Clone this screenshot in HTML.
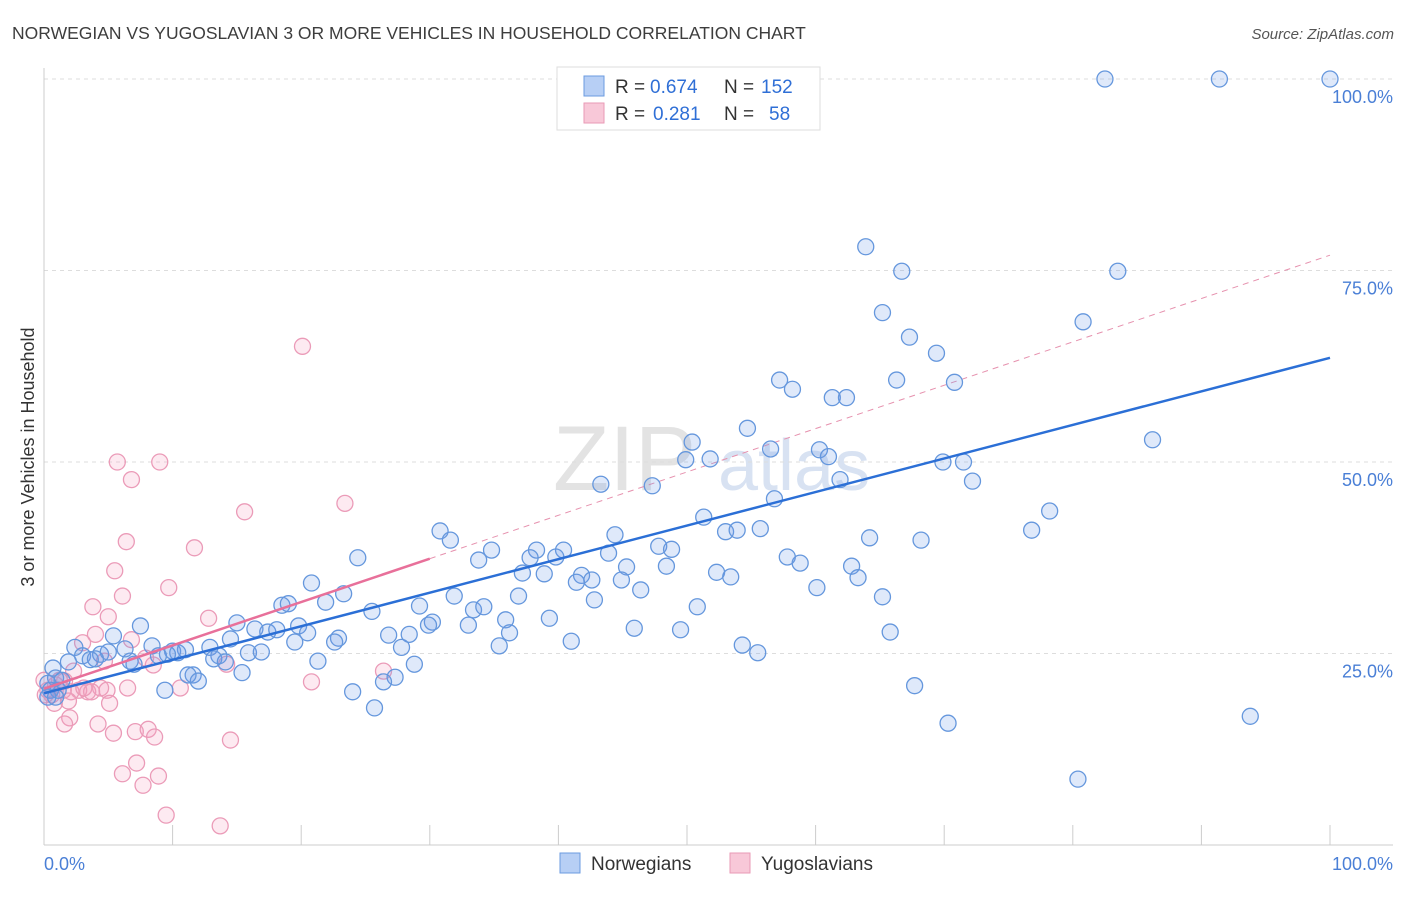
<!DOCTYPE html>
<html><head><meta charset="utf-8"><style>
body{margin:0;background:#fff;font-family:"Liberation Sans",sans-serif}
svg text{font-family:"Liberation Sans",sans-serif}
</style></head><body>
<svg id="chart" width="1406" height="892">
<text x="12" y="39" font-size="17.5" fill="#3d3d3d">NORWEGIAN VS YUGOSLAVIAN 3 OR MORE VEHICLES IN HOUSEHOLD CORRELATION CHART</text>
<text x="1394" y="39" font-size="15" fill="#555" text-anchor="end" font-style="italic">Source: ZipAtlas.com</text>
<text x="34" y="457" font-size="18" fill="#333" text-anchor="middle" transform="rotate(-90 34 457)">3 or more Vehicles in Household</text>
<g><text x="553" y="490" font-size="92" fill="#ddd" font-family="Liberation Serif" opacity="0.8">ZIP</text><text x="718" y="490" font-size="72" fill="#cfdcf0" opacity="0.8">atlas</text></g>
<g id="grid"></g><g id="axes"></g><g id="lines"></g><g id="pts"></g>
<g>
<rect x="557" y="67" width="263" height="63" fill="#fff" stroke="#ddd"/>
<rect x="584" y="76" width="20" height="20" fill="#b7cff5" stroke="#6b9be0"/>
<rect x="584" y="103" width="20" height="20" fill="#f8c8d8" stroke="#e99ab6"/>
<text x="615" y="93" font-size="19" fill="#333">R =</text>
<text x="650" y="93" font-size="19" fill="#2f6fd6">0.674</text>
<text x="724" y="93" font-size="19" fill="#333">N =</text>
<text x="761" y="93" font-size="19" fill="#2f6fd6">152</text>
<text x="615" y="120" font-size="19" fill="#333">R =</text>
<text x="653" y="120" font-size="19" fill="#2f6fd6">0.281</text>
<text x="724" y="120" font-size="19" fill="#333">N =</text>
<text x="769" y="120" font-size="19" fill="#2f6fd6">58</text>
</g>
<g>
<rect x="560" y="853" width="20" height="20" fill="#b7cff5" stroke="#6b9be0"/>
<text x="591" y="870" font-size="19" fill="#333">Norwegians</text>
<rect x="730" y="853" width="20" height="20" fill="#f8c8d8" stroke="#e99ab6"/>
<text x="761" y="870" font-size="19" fill="#333">Yugoslavians</text>
</g>
</svg>
<script>
const yTicks=[25,50,75,100];
const yTickLabels=["25.0%","50.0%","75.0%","100.0%"];
const xTickLabels=["0.0%","100.0%"];
const bluePx=[[1105,79],[1220,79],[1330,79],[866,247],[902,271],[1118,271],[882,313],[1083,322],[910,337],[936,353],[780,380],[897,380],[955,382],[793,389],[832,398],[847,398],[748,428],[1153,440],[692,442],[770,449],[819,450],[828,457],[686,460],[710,459],[943,462],[963,462],[840,480],[972,481],[601,484],[652,486],[774,499],[1050,511],[704,517],[1032,530],[440,531],[726,532],[737,530],[760,529],[870,538],[921,540],[450,540],[615,535],[358,558],[492,550],[537,550],[563,550],[659,546],[672,549],[608,553],[479,560],[556,557],[627,567],[851,566],[530,558],[800,563],[667,566],[787,557],[717,572],[731,577],[523,573],[544,574],[582,575],[592,580],[312,583],[576,582],[622,580],[858,578],[641,590],[817,588],[344,594],[518,596],[454,596],[882,597],[595,600],[282,605],[288,604],[325,602],[372,611],[420,606],[474,610],[484,607],[697,607],[550,618],[506,620],[432,622],[428,625],[469,625],[140,626],[237,623],[255,629],[268,632],[277,630],[298,626],[510,633],[409,634],[389,635],[307,633],[634,628],[680,630],[890,632],[114,636],[230,639],[339,638],[571,641],[334,642],[295,642],[402,647],[75,647],[152,646],[125,649],[210,647],[185,650],[173,651],[178,653],[167,654],[742,645],[499,646],[249,653],[261,652],[100,654],[108,652],[82,656],[96,659],[158,656],[130,661],[219,656],[214,659],[68,662],[90,660],[53,668],[318,661],[225,662],[134,664],[758,653],[415,664],[193,675],[395,677],[188,675],[198,681],[242,673],[383,682],[352,692],[165,690],[915,686],[375,708],[948,723],[1250,716],[1078,779],[55,678],[48,683],[50,690],[58,690],[62,680],[48,697],[56,697]];
const pinkPx=[[303,346],[117,462],[160,462],[131,480],[244,512],[345,503],[126,542],[195,548],[115,571],[169,588],[122,596],[93,607],[108,617],[209,618],[96,634],[131,640],[82,643],[145,658],[104,661],[153,665],[227,664],[73,671],[383,671],[65,681],[311,682],[180,688],[128,688],[100,688],[88,692],[79,690],[71,692],[48,690],[52,695],[56,685],[60,680],[107,690],[68,701],[110,703],[54,703],[45,695],[44,680],[70,718],[64,724],[98,724],[114,733],[135,732],[148,729],[155,737],[231,740],[137,763],[122,774],[158,776],[143,785],[166,815],[220,826],[91,692],[84,688],[63,690]];
const blueX=bluePx.map(p=>+((p[0]-44)/12.86).toFixed(1));
const blueY=bluePx.map(p=>+((845-p[1])/7.66).toFixed(1));
const pinkX=pinkPx.map(p=>+((p[0]-44)/12.86).toFixed(1));
const pinkY=pinkPx.map(p=>+((845-p[1])/7.66).toFixed(1));
const blueTrend=[19.8,63.6];
const pinkTrend=[20.4,77.0];
const pinkSolidEnd=30;

const sx=v=>44+v*12.86, sy=v=>845-v*7.66;
const NS="http://www.w3.org/2000/svg";
function mk(t,a,p){const e=document.createElementNS(NS,t);for(const k in a)e.setAttribute(k,a[k]);p.appendChild(e);return e;}
const grid=document.getElementById('grid'),axes=document.getElementById('axes'),lines=document.getElementById('lines'),pts=document.getElementById('pts');
yTicks.forEach((t,i)=>{
 const l=mk('line',{x1:44,x2:1393,y1:sy(t),y2:sy(t),stroke:'#ddd','stroke-dasharray':'4,4'},grid);
 
 
 const tx=mk('text',{x:1393,y:sy(t)+24,'font-size':18,fill:'#4a7fd6','text-anchor':'end'},axes);
 tx.textContent=yTickLabels[i];
 
 
});
const ax=mk('line',{x1:44,x2:1393,y1:845,y2:845,stroke:'#ccc'},axes);


const ay=mk('line',{x1:44,x2:44,y1:68,y2:845,stroke:'#ccc'},axes);


for(let i=0;i<=10;i++){const t=mk('line',{x1:sx(i*10),x2:sx(i*10),y1:825,y2:845,stroke:'#ccc'},axes);
 
 }
[[0,'start',44],[1,'end',1393]].forEach(([i,a,x])=>{const t=mk('text',{x:x,y:870,'font-size':18,fill:'#4a7fd6','text-anchor':a},axes);t.textContent=xTickLabels[i];
 
 });
function addPts(X,Y,fill,stroke,name){X.forEach((x,i)=>{const c=mk('circle',{cx:sx(x),cy:sy(Y[i]),r:8,fill:fill,stroke:stroke,'stroke-width':1.3},pts);
 
 });}
addPts(pinkX,pinkY,'rgba(244,160,190,0.22)','#eb9bb8','yugoslavian-point');
addPts(blueX,blueY,'rgba(110,155,230,0.22)','#6597dd','norwegian-point');
const pv=x=>pinkTrend[0]+(pinkTrend[1]-pinkTrend[0])*x/100;
const pd=mk('line',{x1:sx(pinkSolidEnd),y1:sy(pv(pinkSolidEnd)),x2:sx(100),y2:sy(pv(100)),stroke:'#e691ae','stroke-width':1,'stroke-dasharray':'6,5'},lines);


const ps=mk('line',{x1:sx(0),y1:sy(pv(0)),x2:sx(pinkSolidEnd),y2:sy(pv(pinkSolidEnd)),stroke:'#e8709a','stroke-width':2.5},pts);


const bl=mk('line',{x1:sx(0),y1:sy(blueTrend[0]),x2:sx(100),y2:sy(blueTrend[1]),stroke:'#2b6fd6','stroke-width':2.5},pts);


</script>
</body></html>
